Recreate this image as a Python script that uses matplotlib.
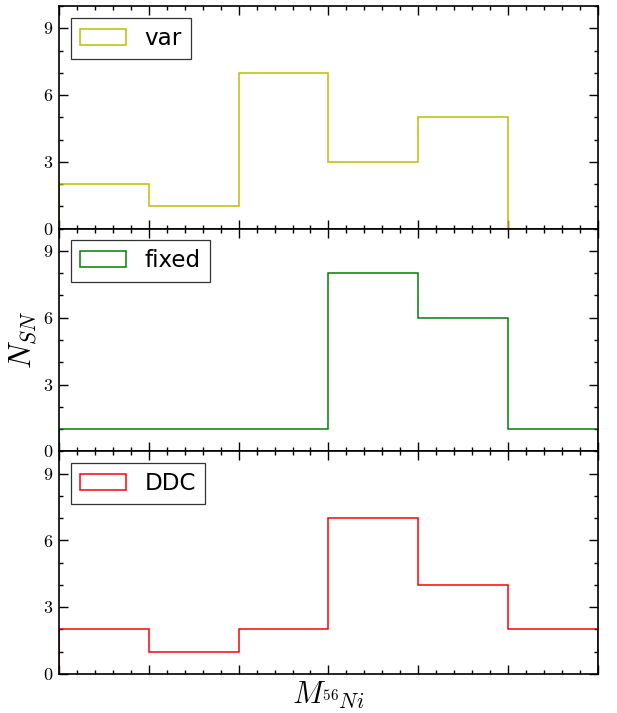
import numpy as np
import matplotlib
matplotlib.use("Agg")
import matplotlib.pyplot as plt
from matplotlib.ticker import MultipleLocator, NullFormatter

plt.rcParams['mathtext.fontset'] = 'cm'

# bin edges (arbitrary M_56Ni units; the reference shows no x tick labels)
bin_edges = [0.0, 1.0, 2.0, 3.0, 4.0, 5.0, 6.0]
counts_var = [2, 1, 7, 3, 5, 0]
counts_fixed = [1, 1, 1, 8, 6, 1]
counts_ddc = [2, 1, 2, 7, 4, 2]
labels = ['var', 'fixed', 'DDC']
colors = [(0.75, 0.75, 0.0), (0.0, 0.5, 0.0), (1.0, 0.0, 0.0)]
y_ticks = [0, 3, 6, 9]

fig, axes = plt.subplots(3, 1, sharex=True, figsize=(6.17, 7.13), dpi=100,
                         gridspec_kw=dict(hspace=0))
fig.subplots_adjust(left=0.0956, right=0.969, top=0.9916, bottom=0.0547)

centers = [(a + b) / 2 for a, b in zip(bin_edges[:-1], bin_edges[1:])]
for ax, counts, lab, col in zip(axes, [counts_var, counts_fixed, counts_ddc], labels, colors):
    ax.hist(centers, bins=bin_edges, weights=counts, histtype='step',
            color=col, linewidth=1.1, label=lab)
    ax.set_xlim(bin_edges[0], bin_edges[-1])
    ax.set_ylim(0, 10)
    ax.set_yticks(y_ticks)
    ax.yaxis.set_minor_locator(MultipleLocator(1))
    ax.xaxis.set_major_locator(MultipleLocator(1))
    ax.xaxis.set_minor_locator(MultipleLocator(0.2))
    ax.xaxis.set_major_formatter(NullFormatter())
    ax.tick_params(which='both', direction='in', top=True, right=True,
                   width=1.0, colors='k')
    ax.tick_params(which='major', length=6.5, pad=4.5, labelsize=13,
                   labelfontfamily='cmr10')
    ax.tick_params(which='minor', length=3.2)
    for s in ax.spines.values():
        s.set_linewidth(1.2)
    leg = ax.legend(loc='upper left', fontsize=16.6, fancybox=False,
                    framealpha=1, edgecolor='#333333', borderaxespad=0.5)
    leg.get_frame().set_linewidth(0.9)

fig.text(23 / 617, 1 - 340 / 713, r'$N_{SN}$', rotation=90, ha='center',
         va='center', fontsize=22)
fig.text(328 / 617, 1 - 695 / 713, r'$M_{^{56}Ni}$', ha='center',
         va='center', fontsize=22)

fig.savefig('out.png', dpi=100)
